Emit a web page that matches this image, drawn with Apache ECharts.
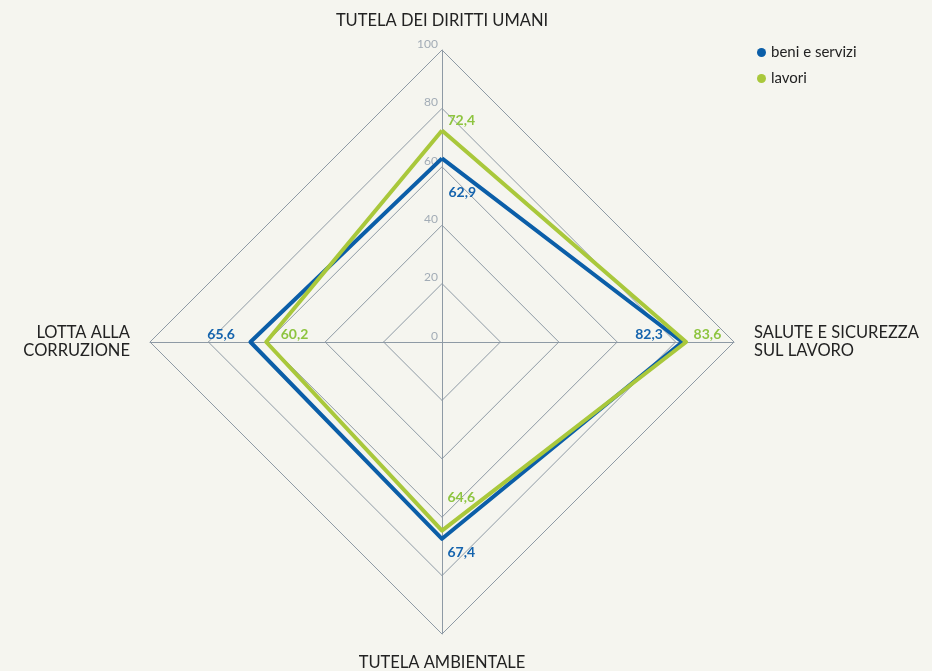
<!DOCTYPE html>
<html><head><meta charset="utf-8">
<script src="https://cdn.jsdelivr.net/npm/echarts@6/dist/echarts.min.js"></script>
<style>html,body{margin:0;padding:0;background:#f5f5ef}#c{width:932px;height:671px}</style>
</head><body><div id="c"></div>
<script>
// indicators in ECharts order (counter-clockwise from top)
const indicatorNames = ['TUTELA DEI DIRITTI UMANI', 'LOTTA ALLA\nCORRUZIONE', 'TUTELA AMBIENTALE', 'SALUTE E SICUREZZA\nSUL LAVORO'];
const seriesNames = ['beni e servizi', 'lavori'];
const beniServizi = [62.9, 65.6, 67.4, 82.3];
const lavori = [72.4, 60.2, 64.6, 83.6];
const axisMax = 100;

const colors = ['#0b5ea8', '#a9c83b'];
const labelColors = ['#1463ad', '#8dc43f'];
// label placement per series per indicator: [position, dx, dy]
const labelPlace = [
  [['right', 1, 34], ['left', -10, -8], ['right', 0, 14], ['left', -14, -8]],
  [['right', 0, -10], ['right', 9, -8], ['right', 0, -33], ['right', 2, -8]]
];
const values = [beniServizi, lavori];
const fmt = v => v.toFixed(1).replace('.', ',');

const labelItems = [];
values.forEach((vals, s) => {
  vals.forEach((v, d) => {
    const p = labelPlace[s][d];
    labelItems.push({
      name: 'lbl' + s + '_' + d,
      value: vals,
      symbol: 'circle',
      symbolSize: 1,
      itemStyle: { color: 'rgba(0,0,0,0)' },
      lineStyle: { opacity: 0, width: 0 },
      label: {
        show: true, position: p[0], offset: [p[1], p[2]], distance: 5,
        color: labelColors[s], fontSize: 14, fontWeight: 'bold', fontFamily: 'Lato',
        formatter: (params) => (params.value === vals[d] ? fmt(vals[d]) : '')
      }
    });
  });
});

const chart = echarts.init(document.getElementById('c'));
chart.setOption({
  backgroundColor: '#f5f5ef',
  animation: false,
  legend: {
    data: seriesNames,
    orient: 'vertical',
    left: 752, top: 40,
    icon: 'circle', itemWidth: 9, itemHeight: 9, itemGap: 11,
    textStyle: { color: '#222', fontSize: 15, fontFamily: 'Lato' }
  },
  radar: {
    center: [442, 342],
    radius: 292,
    shape: 'polygon',
    splitNumber: 5,
    nameGap: 20,
    axisName: { color: '#222', fontSize: 16.5, fontFamily: 'Lato', lineHeight: 18 },
    axisLine: { lineStyle: { color: '#8e9aa5', width: 1 } },
    splitLine: { lineStyle: { color: '#8e9aa5', width: 1 } },
    splitArea: { show: false },
    axisTick: { show: false },
    axisLabel: { show: false },
    indicator: indicatorNames.map((n, i) => {
      const o = { name: n, min: 0, max: axisMax };
      if (i === 0) o.axisLabel = { show: true, color: '#a2acb6', fontSize: 12, fontFamily: 'Lato', align: 'right', verticalAlign: 'bottom', margin: 4 };
      return o;
    })
  },
  series: [
    {
      type: 'radar',
      symbol: 'none',
      data: values.map((vals, s) => ({
        name: seriesNames[s],
        value: vals,
        itemStyle: { color: colors[s] },
        lineStyle: { color: colors[s], width: 4 }
      }))
    },
    {
      type: 'radar',
      silent: true,
      data: labelItems
    }
  ]
});
</script></body></html>
